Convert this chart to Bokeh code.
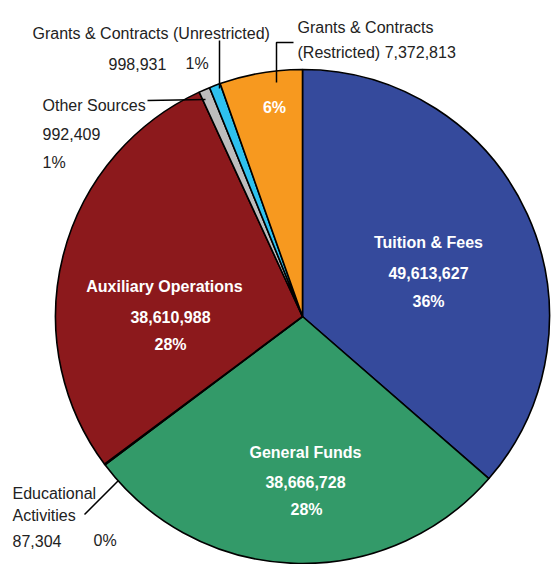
import math
from bokeh.plotting import figure
from bokeh.models import Range1d
from bokeh.core.properties import value
from bokeh.embed import file_html
from bokeh.resources import INLINE

# ---- data ----
categories = ["Tuition & Fees", "General Funds", "Educational Activities",
              "Auxiliary Operations", "Other Sources",
              "Grants & Contracts (Unrestricted)", "Grants & Contracts (Restricted)"]
amounts = [49613627, 38666728, 87304, 38610988, 992409, 998931, 7372813]
pct_labels = ["36%", "28%", "0%", "28%", "1%", "1%", "6%"]
colors = ["#354a9c", "#339a69", "#f3e41c", "#8c191c", "#bdbdbd", "#2ec1ef", "#f7991f"]

FONT = value("Liberation Sans")

# layout in reference pixel coordinates (centre of the pie)
CX, CY, R = 302, 316, 247
def X(px): return px - CX
def Y(py): return CY - py

total = sum(amounts)
starts, ends = [], []
cum = 0
for a in amounts:
    starts.append(math.pi / 2 - 2 * math.pi * cum / total)
    cum += a
    ends.append(math.pi / 2 - 2 * math.pi * cum / total)

p = figure(width=551, height=564, x_range=Range1d(X(0), X(551)),
           y_range=Range1d(Y(564), Y(0)), output_backend="svg",
           toolbar_location=None, min_border=0)
p.axis.visible = False
p.grid.visible = False
p.outline_line_color = None
p.background_fill_color = "white"

p.wedge(x=0, y=0, radius=R, start_angle=starts, end_angle=ends, direction="clock",
        fill_color=colors, line_color="black", line_width=1.6)

fmt = [f"{a:,}" for a in amounts]

# inside labels (white, bold, centred)
in_txt, in_x, in_y = [], [], []
for i, (cx, ys) in {0: ([428, 428, 428], [242, 272, 301]),
                    1: ([305, 305, 306], [452, 481, 509]),
                    3: ([164, 170, 170], [286, 316, 344])}.items():
    for t, xx, yy in zip([categories[i], fmt[i], pct_labels[i]], cx, ys):
        in_txt.append(t); in_x.append(X(xx)); in_y.append(Y(yy))
in_txt.append(pct_labels[6]); in_x.append(X(274)); in_y.append(Y(107))
p.text(x=in_x, y=in_y, text=in_txt, text_color="white", text_font=FONT,
       text_font_style="bold", text_font_size="16px", text_align="center",
       text_baseline="alphabetic")

# outside labels (black, left aligned)
out_txt = ["Grants & Contracts (Unrestricted)", fmt[5], pct_labels[5],
           "Grants & Contracts", "(Restricted) " + fmt[6],
           categories[4], fmt[4], pct_labels[4],
           "Educational", "Activities", fmt[2], pct_labels[2]]
out_x = [32, 108, 185, 297, 297, 42, 42, 42, 12, 12, 12, 93]
out_y = [33, 63, 63, 27, 52, 105, 133, 162, 493, 515, 540, 540]
p.text(x=[X(v) for v in out_x], y=[Y(v) for v in out_y], text=out_txt,
       text_color="#222222", text_font=FONT, text_font_size="16px",
       text_align="left", text_baseline="alphabetic")

# leader lines
lead_x = [[219, 219], [293, 276, 276], [147, 205], [84, 118]]
lead_y = [[40, 88], [42, 42, 82], [100, 99], [514, 480]]
p.multi_line(xs=[[X(v) for v in s] for s in lead_x],
             ys=[[Y(v) for v in s] for s in lead_y],
             line_color="black", line_width=1.5)

open("out.html", "w").write(file_html(p, INLINE))
